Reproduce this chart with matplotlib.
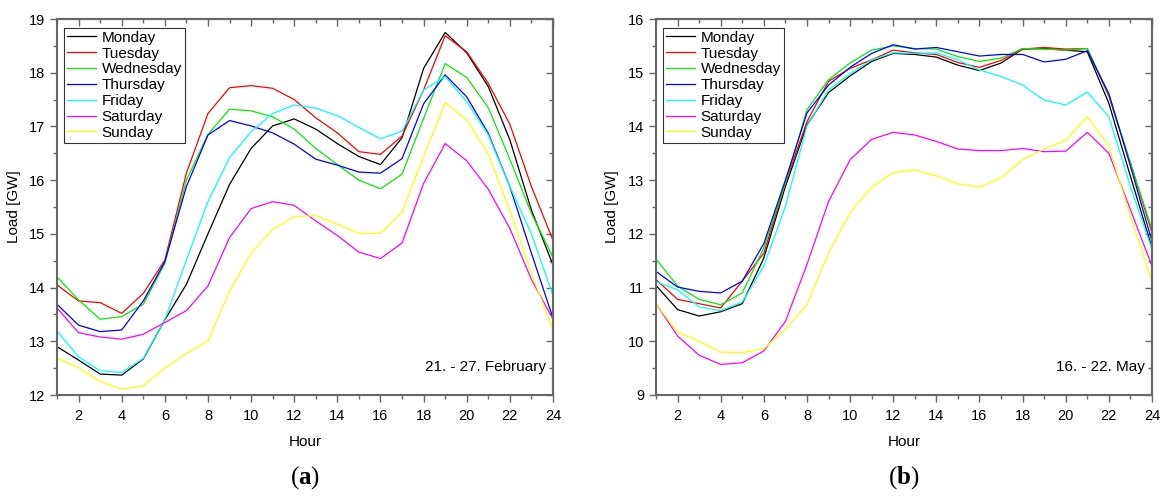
import matplotlib
matplotlib.use("Agg")
import matplotlib.pyplot as plt
from matplotlib.ticker import MultipleLocator

plt.rcParams['font.family'] = ['Liberation Sans', 'DejaVu Sans']
plt.rcParams['mathtext.fontset'] = 'custom'
plt.rcParams['mathtext.rm'] = 'Liberation Serif'
plt.rcParams['mathtext.bf'] = 'Liberation Serif:bold'

hours = list(range(1, 25))
days = ["Monday", "Tuesday", "Wednesday", "Thursday", "Friday", "Saturday", "Sunday"]
colors = ["#000000", "#ff0000", "#00ee00", "#0000ff", "#00ffff", "#ff00ff", "#ffff00"]

feb_monday = [12.90, 12.65, 12.39, 12.37, 12.67, 13.40, 14.06, 15.00, 15.92, 16.59, 17.01, 17.14,
              16.95, 16.68, 16.44, 16.29, 16.79, 18.08, 18.75, 18.37, 17.74, 16.75, 15.44, 14.42]
feb_tuesday = [14.05, 13.75, 13.72, 13.52, 13.89, 14.51, 16.13, 17.24, 17.72, 17.76, 17.71, 17.50,
               17.16, 16.88, 16.53, 16.48, 16.82, 17.68, 18.69, 18.39, 17.80, 17.04, 15.88, 14.88]
feb_wednesday = [14.20, 13.77, 13.41, 13.46, 13.69, 14.45, 16.00, 16.85, 17.32, 17.29, 17.18, 16.95,
                 16.59, 16.29, 16.00, 15.84, 16.11, 17.15, 18.17, 17.91, 17.35, 16.39, 15.38, 14.56]
feb_thursday = [13.69, 13.30, 13.18, 13.21, 13.75, 14.48, 15.88, 16.84, 17.11, 17.01, 16.88, 16.67,
                16.39, 16.28, 16.15, 16.13, 16.40, 17.42, 17.96, 17.55, 16.87, 15.88, 14.64, 13.43]
feb_friday = [13.19, 12.71, 12.45, 12.42, 12.68, 13.40, 14.51, 15.60, 16.42, 16.90, 17.24, 17.40,
              17.34, 17.20, 16.98, 16.77, 16.91, 17.68, 17.93, 17.46, 16.84, 15.88, 15.00, 13.85]
feb_saturday = [13.62, 13.16, 13.08, 13.04, 13.13, 13.35, 13.57, 14.03, 14.93, 15.47, 15.60, 15.53,
                15.24, 14.97, 14.66, 14.54, 14.83, 15.94, 16.68, 16.36, 15.83, 15.10, 14.15, 13.41]
feb_sunday = [12.69, 12.51, 12.25, 12.11, 12.17, 12.50, 12.77, 13.01, 13.93, 14.64, 15.08, 15.32,
              15.34, 15.18, 15.01, 15.01, 15.40, 16.44, 17.44, 17.12, 16.49, 15.44, 14.26, 13.22]

may_monday = [11.04, 10.59, 10.47, 10.55, 10.70, 11.55, 12.88, 14.03, 14.63, 14.94, 15.21, 15.36,
              15.34, 15.29, 15.14, 15.04, 15.18, 15.44, 15.45, 15.42, 15.39, 14.43, 13.07, 11.74]
may_tuesday = [11.15, 10.78, 10.70, 10.62, 11.12, 11.64, 12.95, 14.09, 14.84, 15.08, 15.24, 15.42,
               15.37, 15.34, 15.19, 15.10, 15.23, 15.44, 15.47, 15.44, 15.45, 14.56, 13.32, 12.02]
may_wednesday = [11.53, 11.03, 10.78, 10.68, 10.90, 11.74, 12.95, 14.31, 14.87, 15.18, 15.42, 15.50,
                 15.45, 15.44, 15.30, 15.21, 15.27, 15.45, 15.44, 15.42, 15.45, 14.59, 13.32, 12.08]
may_thursday = [11.30, 11.01, 10.93, 10.90, 11.12, 11.82, 13.00, 14.25, 14.77, 15.10, 15.36, 15.52,
                15.44, 15.47, 15.39, 15.31, 15.34, 15.34, 15.20, 15.25, 15.41, 14.61, 13.26, 11.86]
may_friday = [11.11, 10.96, 10.64, 10.57, 10.73, 11.40, 12.51, 14.01, 14.68, 14.98, 15.24, 15.37,
              15.36, 15.37, 15.24, 15.05, 14.93, 14.77, 14.49, 14.40, 14.64, 14.18, 12.88, 11.71]
may_saturday = [10.70, 10.10, 9.74, 9.57, 9.60, 9.82, 10.37, 11.43, 12.60, 13.38, 13.76, 13.89,
                13.84, 13.72, 13.58, 13.55, 13.55, 13.59, 13.53, 13.54, 13.89, 13.50, 12.45, 11.40]
may_sunday = [10.70, 10.17, 10.00, 9.80, 9.79, 9.86, 10.22, 10.68, 11.64, 12.39, 12.87, 13.14,
              13.19, 13.08, 12.93, 12.87, 13.04, 13.38, 13.58, 13.74, 14.18, 13.63, 12.33, 11.12]

feb = [feb_monday, feb_tuesday, feb_wednesday, feb_thursday, feb_friday, feb_saturday, feb_sunday]
may = [may_monday, may_tuesday, may_wednesday, may_thursday, may_friday, may_saturday, may_sunday]

W, H = 1161, 496
fig = plt.figure(figsize=(W / 100, H / 100), dpi=100)

spine_col = "#666666"


def make_panel(left_px, right_px, data, ylim, note, tag):
    ax = fig.add_axes([left_px / W, 1 - 395 / H, (right_px - left_px) / W, (395 - 19) / H])
    for vals, c, d in zip(data, colors, days):
        ax.plot(hours, vals, color=c, lw=0.9, label=d)
    ax.set_xlim(1, 24)
    ax.set_ylim(*ylim)
    ax.xaxis.set_major_locator(MultipleLocator(2))
    ax.xaxis.set_minor_locator(MultipleLocator(1))
    ax.yaxis.set_major_locator(MultipleLocator(1))
    ax.yaxis.set_minor_locator(MultipleLocator(0.5))
    ax.tick_params(which='both', direction='out', colors=spine_col, labelcolor='black',
                   labelsize=10.5, width=1)
    ax.tick_params(which='major', length=5)
    ax.tick_params(which='minor', length=3)
    ax.tick_params(axis='x', pad=5)
    for s in ax.spines.values():
        s.set_color(spine_col)
        s.set_linewidth(1.5)
    top = ax.secondary_xaxis('top')
    top.xaxis.set_major_locator(MultipleLocator(2))
    top.xaxis.set_minor_locator(MultipleLocator(1))
    top.tick_params(which='both', direction='in', colors=spine_col, labeltop=False, width=1)
    top.tick_params(which='major', length=5)
    top.tick_params(which='minor', length=3)
    top.spines['top'].set_color(spine_col)
    top.spines['top'].set_linewidth(1.5)
    right = ax.secondary_yaxis('right')
    right.yaxis.set_major_locator(MultipleLocator(1))
    right.yaxis.set_minor_locator(MultipleLocator(0.5))
    right.tick_params(which='both', direction='in', colors=spine_col, labelright=False, width=1)
    right.tick_params(which='major', length=5)
    right.tick_params(which='minor', length=3)
    right.spines['right'].set_color(spine_col)
    right.spines['right'].set_linewidth(1.5)

    ax.set_xlabel("Hour", fontsize=11, labelpad=9)
    ax.set_ylabel("Load [GW]", fontsize=11, labelpad=6)
    leg = ax.legend(loc='upper left', bbox_to_anchor=(0.008, 0.985), fontsize=11,
                    frameon=True, fancybox=False, edgecolor='#333333', framealpha=1,
                    handlelength=1.9, handletextpad=0.35, labelspacing=0.12,
                    borderpad=0.2, borderaxespad=0.2)
    leg.get_frame().set_linewidth(0.8)
    ax.text(0.985, 0.055, note, transform=ax.transAxes, ha='right', va='bottom', fontsize=11)
    cx = (left_px + right_px) / 2 / W
    fig.text(cx, 1 - 478 / H, r"($\mathbf{" + tag + r"}$)", fontsize=18,
             family='Liberation Serif', ha='center', va='center')
    return ax


make_panel(57, 553, feb, (12, 19), "21. - 27. February", "a")
make_panel(656, 1152, may, (9, 16), "16. - 22. May", "b")

fig.savefig("out.png", dpi=100)
